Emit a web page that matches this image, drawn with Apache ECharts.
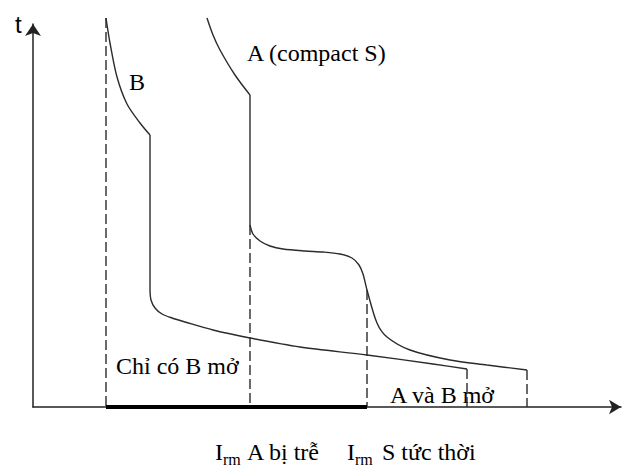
<!DOCTYPE html>
<html>
<head>
<meta charset="utf-8">
<script src="https://cdn.jsdelivr.net/npm/echarts@6/dist/echarts.min.js"></script>
<style>
  html, body { margin: 0; padding: 0; background: #fff; }
  #chart { width: 637px; height: 467px; }
</style>
</head>
<body>
<div id="chart"></div>
<script>
// schematic units: x = current, y = tripping time
var curveBTop = [[73, 389], [77, 364], [84, 330], [94, 303], [107, 284], [117, 272]];
var curveBStep = [[117, 272], [117, 117]];
var curveBLow = [[117, 117], [118, 107], [122, 99], [129, 93], [139, 89], [152, 85], [180, 77],
                 [217, 69], [267, 60], [334, 52], [400, 43], [434, 38]];
var curveATop = [[174, 389], [180, 372], [187, 357], [202, 332], [217, 312]];
var curveAStep = [[217, 312], [217, 182]];
var curveALow = [[217, 182], [220, 173], [227, 166], [237, 161], [250, 158], [272, 156], [290, 155],
                 [307, 153], [319, 149], [326, 142], [330, 133], [334, 117], [344, 84], [354, 70],
                 [377, 57], [417, 47], [454, 42], [494, 37]];
// dashed guide lines: [x, top]
var guides = [[73, 389], [217, 182], [334, 117], [434, 38], [494, 37]];
var onlyBZone = [[73, 0], [334, 0]];

var myChart = echarts.init(document.getElementById('chart'), null, {renderer: 'svg'});

var lineColor = '#2b2b2b';
var serif = 'Liberation Serif';

function solid(data, smooth) {
    return {
        type: 'line',
        data: data,
        smooth: smooth ? 0.3 : false,
        symbol: 'none',
        clip: false,
        silent: true,
        lineStyle: {color: lineColor, width: 1.4}
    };
}

var series = [
    solid(curveBTop, true),
    solid(curveBStep, false),
    solid(curveBLow, true),
    solid(curveATop, true),
    solid(curveAStep, false),
    solid(curveALow, true)
];
guides.forEach(function (g) {
    series.push({
        type: 'line',
        data: [[g[0], g[1]], [g[0], 0]],
        symbol: 'none',
        clip: false,
        silent: true,
        lineStyle: {color: lineColor, width: 1.4, type: [10, 4]}
    });
});
series.push({
    type: 'line',
    data: onlyBZone,
    symbol: 'none',
    clip: false,
    silent: true,
    lineStyle: {color: '#000', width: 4}
});

function txt(x, y, text, size, family) {
    return {
        type: 'text',
        left: x,
        top: y,
        silent: true,
        style: {
            text: text,
            font: size + 'px "' + (family || serif) + '"',
            fill: '#000'
        }
    };
}

var option = {
    animation: false,
    grid: {left: 33, right: 16, top: 24, bottom: 60},
    xAxis: {
        type: 'value',
        min: 0,
        max: 588,
        splitLine: {show: false},
        axisTick: {show: false},
        axisLabel: {show: false},
        axisLine: {
            show: true,
            symbol: ['none', 'arrow'],
            symbolSize: [11, 12],
            lineStyle: {color: '#222', width: 1.5}
        }
    },
    yAxis: {
        type: 'value',
        min: 0,
        max: 383,
        splitLine: {show: false},
        axisTick: {show: false},
        axisLabel: {show: false},
        axisLine: {
            show: true,
            symbol: ['none', 'arrow'],
            symbolSize: [12, 12],
            lineStyle: {color: '#222', width: 1.5}
        }
    },
    series: series,
    graphic: [
        txt(15, 12, 't', 24, 'Liberation Sans'),
        txt(129, 70, 'B', 24),
        txt(247, 41, 'A (compact S)', 24),
        txt(116, 354, 'Chỉ có B mở', 24),
        txt(390, 383, 'A và B mở', 24),
        txt(215, 440, 'I', 24),
        txt(223, 451, 'rm', 16),
        txt(247, 440, 'A bị trễ', 24),
        txt(347, 440, 'I', 24),
        txt(355, 451, 'rm', 16),
        txt(382, 440, 'S tức thời', 24)
    ]
};
myChart.setOption(option);
</script>
</body>
</html>
